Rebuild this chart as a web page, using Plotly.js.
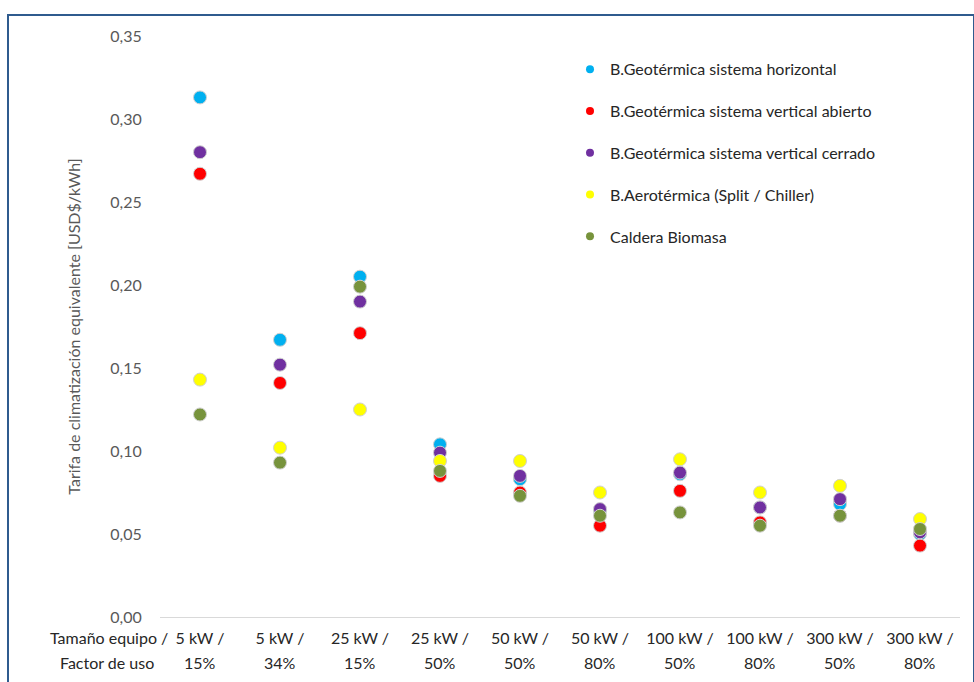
<!DOCTYPE html>
<html>
<head>
<meta charset="utf-8">
<script src="https://cdn.plot.ly/plotly-3.0.1.min.js"></script>
<style>
  body { margin: 0; background: #fff; }
  #wrap { position: relative; width: 974px; height: 682px; }
  #chart { width: 974px; height: 682px; }
  #frame {
    position: absolute; left: 7px; top: 14px; width: 964px; height: 700px;
    border: 2px solid #2f5b8e; pointer-events: none;
  }
</style>
</head>
<body>
<div id="wrap">
  <div id="chart"></div>
  <div id="frame"></div>
</div>
<script>
// Categories: equipment size (first line) / usage factor (second line)
const sizes = ['5 kW /', '5 kW /', '25 kW /', '25 kW /', '50 kW /',
               '50 kW /', '100 kW /', '100 kW /', '300 kW /', '300 kW /'];
const factors = ['15%', '34%', '15%', '50%', '50%', '80%', '50%', '80%', '50%', '80%'];

// Equivalent tariff values [USD$/kWh]
const geoHorizontal   = [0.313, 0.167, 0.205, 0.104, 0.083, 0.064, 0.086, 0.066, 0.068, 0.050];
const geoVertAbierto  = [0.267, 0.141, 0.171, 0.085, 0.075, 0.055, 0.076, 0.057, 0.061, 0.043];
const geoVertCerrado  = [0.280, 0.152, 0.190, 0.099, 0.085, 0.065, 0.087, 0.066, 0.071, 0.051];
const aerotermica     = [0.143, 0.102, 0.125, 0.094, 0.094, 0.075, 0.095, 0.075, 0.079, 0.059];
const calderaBiomasa  = [0.122, 0.093, 0.199, 0.088, 0.073, 0.061, 0.063, 0.055, 0.061, 0.053];

const seriesNames = [
  'B.Geotérmica sistema horizontal',
  'B.Geotérmica sistema vertical abierto',
  'B.Geotérmica sistema vertical cerrado',
  'B.Aerotérmica (Split / Chiller)',
  'Caldera Biomasa'
];
const seriesValues = [geoHorizontal, geoVertAbierto, geoVertCerrado, aerotermica, calderaBiomasa];
const seriesColors = ['#00b0f0', '#ff0000', '#7030a0', '#ffff00', '#77933c'];

const xIdx = sizes.map((_, i) => i);
const font = 'Lato, "Open Sans", sans-serif';
const dark = '#262626';

const traces = [];
seriesValues.forEach(function(vals, k) {
  // the visible points
  traces.push({
    x: xIdx, y: vals, type: 'scatter', mode: 'markers',
    name: seriesNames[k], showlegend: false, hoverinfo: 'y',
    marker: { color: seriesColors[k], size: 13, line: { color: '#d0d0d0', width: 1 } }
  });
  // small legend symbol
  traces.push({
    x: [null], y: [null], type: 'scatter', mode: 'markers',
    name: seriesNames[k], legendgroup: 'g' + k,
    marker: { color: seriesColors[k], size: 8 }
  });
});

// second line of each category label
const annotations = factors.map(function(f, i) {
  return {
    text: f, xref: 'x', yref: 'paper', x: i, y: -0.0775,
    xanchor: 'center', yanchor: 'middle', showarrow: false,
    font: { family: font, size: 16, color: dark }
  };
});
annotations.push(
  { text: 'Tamaño equipo /', xref: 'paper', yref: 'paper', x: 0.012, y: -0.036,
    xanchor: 'right', yanchor: 'middle', showarrow: false,
    font: { family: font, size: 16, color: dark } },
  { text: 'Factor de uso', xref: 'paper', yref: 'paper', x: -0.005, y: -0.0775,
    xanchor: 'right', yanchor: 'middle', showarrow: false,
    font: { family: font, size: 16, color: dark } }
);

const layout = {
  width: 974, height: 682,
  margin: { l: 160, r: 14, t: 36, b: 65 },
  paper_bgcolor: '#fff', plot_bgcolor: '#fff',
  separators: ',.',
  font: { family: font, size: 16, color: '#595959' },
  showlegend: true,
  legend: {
    x: 0.5125, y: 0.972, xanchor: 'left', yanchor: 'top',
    bgcolor: 'rgba(0,0,0,0)', traceorder: 'grouped', tracegroupgap: 18,
    font: { family: font, size: 16, color: dark },
    itemwidth: 30
  },
  xaxis: {
    range: [-0.5, 9.5], tickmode: 'array', tickvals: xIdx, ticktext: sizes,
    showgrid: false, zeroline: false, showline: true, linecolor: '#d9d9d9', linewidth: 1,
    ticks: 'outside', ticklen: 7, tickcolor: 'rgba(0,0,0,0)',
    tickfont: { family: font, size: 16, color: dark }, fixedrange: true
  },
  yaxis: {
    range: [0, 0.35], dtick: 0.05, tickformat: '.2f',
    showgrid: false, zeroline: false, showline: false,
    ticks: 'outside', ticklen: 14, tickcolor: 'rgba(0,0,0,0)',
    tickfont: { family: font, size: 16, color: '#595959' },
    title: { text: 'Tarifa de climatización equivalente [USD$/kWh]', standoff: 25,
             font: { family: font, size: 16, color: '#595959' } },
    fixedrange: true
  },
  annotations: annotations
};

Plotly.newPlot('chart', traces, layout, { displayModeBar: false, staticPlot: true });
</script>
</body>
</html>
